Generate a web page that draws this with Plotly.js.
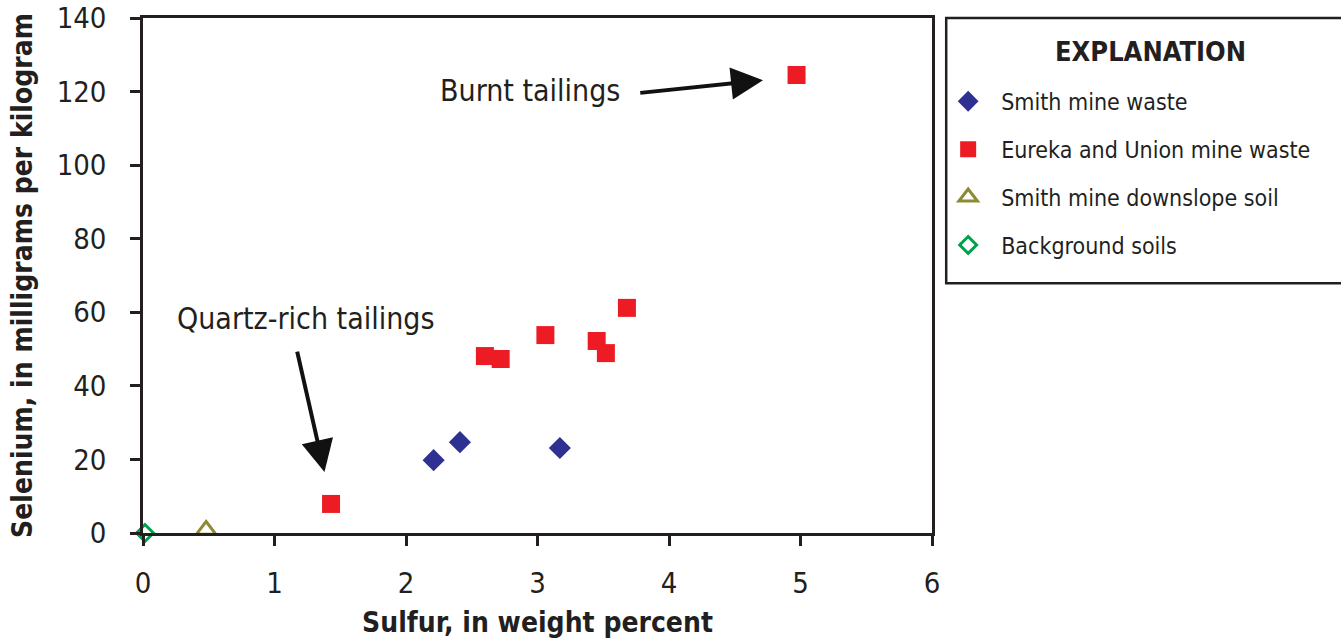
<!DOCTYPE html>
<html>
<head>
<meta charset="utf-8">
<script src="https://cdn.plot.ly/plotly-3.0.1.min.js"></script>
<style>html,body{margin:0;padding:0;background:#fff;}#chart{width:1341px;height:640px;}</style>
</head>
<body>
<div id="chart"></div>
<script>
const FONT = "'DejaVu Sans Condensed', 'Liberation Sans Narrow', 'Arial Narrow', sans-serif";

const smithWasteX = [2.21, 2.41, 3.17];
const smithWasteY = [19.8, 24.7, 23.1];

const eurekaX = [1.43, 2.60, 2.72, 3.06, 3.45, 3.52, 3.68, 4.97];
const eurekaY = [7.9, 48.1, 47.3, 53.8, 52.2, 48.9, 61.2, 124.5];

const downslopeX = [0.48];
const downslopeY = [0.8];

const backgroundX = [0.015];
const backgroundY = [0];

const seriesNames = ["Smith mine waste", "Eureka and Union mine waste", "Smith mine downslope soil", "Background soils"];
const xTicks = [0, 1, 2, 3, 4, 5, 6];
const yTicks = [0, 20, 40, 60, 80, 100, 120, 140];

const traces = [
  {x: smithWasteX, y: smithWasteY, name: seriesNames[0], mode: 'markers', type: 'scatter', legendgroup: 'a',
   marker: {symbol: 'diamond', size: 17, color: '#2e3192', line: {width: 0}}, cliponaxis: false},
  {x: eurekaX, y: eurekaY, name: seriesNames[1], mode: 'markers', type: 'scatter', legendgroup: 'b',
   marker: {symbol: 'square', size: 18, color: '#ed1c24', line: {width: 0}}, cliponaxis: false},
  {x: downslopeX, y: downslopeY, name: seriesNames[2], mode: 'markers', type: 'scatter', legendgroup: 'c',
   marker: {symbol: 'triangle-up-open', size: 17, color: '#8c8a35', line: {width: 3, color: '#8c8a35'}}, cliponaxis: false},
  {x: backgroundX, y: backgroundY, name: seriesNames[3], mode: 'markers', type: 'scatter', legendgroup: 'd',
   marker: {symbol: 'diamond-open', size: 13, color: '#00a14b', line: {width: 3, color: '#00a14b'}}, cliponaxis: false}
];

const axisColor = '#231f20';
const layout = {
  width: 1341, height: 640,
  margin: {l: 143, r: 409, t: 18, b: 107},
  paper_bgcolor: '#fff', plot_bgcolor: '#fff',
  font: {family: FONT, color: axisColor, size: 22},
  showlegend: true,
  legend: {x: 1.004, xanchor: 'left', y: 0.88, yanchor: 'top', bgcolor: 'rgba(0,0,0,0)',
    borderwidth: 0, font: {family: FONT, size: 23, color: axisColor}, traceorder: 'grouped', tracegroupgap: 15,
    itemwidth: 56},
  xaxis: {range: [0, 6], tickvals: xTicks, ticks: 'outside', ticklen: 10, tickwidth: 2.5, tickcolor: axisColor,
    showline: true, linewidth: 2.5, linecolor: axisColor, mirror: true, showgrid: false, zeroline: false,
    ticklabelstandoff: 12,
    tickfont: {family: FONT, size: 29, color: axisColor},
    title: {text: '<b>Sulfur, in weight percent</b>', font: {family: FONT, size: 28, color: axisColor}, standoff: 14}},
  yaxis: {range: [0, 140], tickvals: yTicks, ticks: 'outside', ticklen: 10, tickwidth: 2.5, tickcolor: axisColor,
    showline: true, linewidth: 2.5, linecolor: axisColor, mirror: true, showgrid: false, zeroline: false,
    ticklabelstandoff: 18,
    tickfont: {family: FONT, size: 29, color: axisColor},
    title: {text: '<b>Selenium, in milligrams per kilogram</b>', font: {family: FONT, size: 28, color: axisColor}, standoff: 16}},
  shapes: [
    {type: 'rect', xref: 'paper', yref: 'paper', x0: 1.018, x1: 1.53, y0: 0.485, y1: 1.0,
     line: {color: axisColor, width: 2.5}, fillcolor: 'rgba(0,0,0,0)'}
  ],
  annotations: [
    {xref: 'paper', yref: 'paper', x: 1.2775, xanchor: 'center', y: 0.935, yanchor: 'middle',
     text: '<b>EXPLANATION</b>', showarrow: false,
     font: {family: FONT, size: 27, color: axisColor}},
    {x: 2.94, y: 120.4, xanchor: 'center', text: 'Burnt tailings', showarrow: false, font: {family: FONT, size: 30, color: axisColor}},
    {x: 4.715, y: 123.1, ax: 3.77, ay: 119.6, axref: 'x', ayref: 'y', text: '', showarrow: true,
     arrowhead: 2, arrowsize: 1.6, arrowwidth: 4, arrowcolor: '#111'},
    {x: 1.24, y: 58.4, xanchor: 'center', text: 'Quartz-rich tailings', showarrow: false, font: {family: FONT, size: 30, color: axisColor}},
    {x: 1.38, y: 16.6, ax: 1.17, ay: 49.7, axref: 'x', ayref: 'y', text: '', showarrow: true,
     arrowhead: 2, arrowsize: 1.6, arrowwidth: 4, arrowcolor: '#111'}
  ]
};

Plotly.newPlot('chart', traces, layout, {displayModeBar: false, responsive: false});
</script>
</body>
</html>
